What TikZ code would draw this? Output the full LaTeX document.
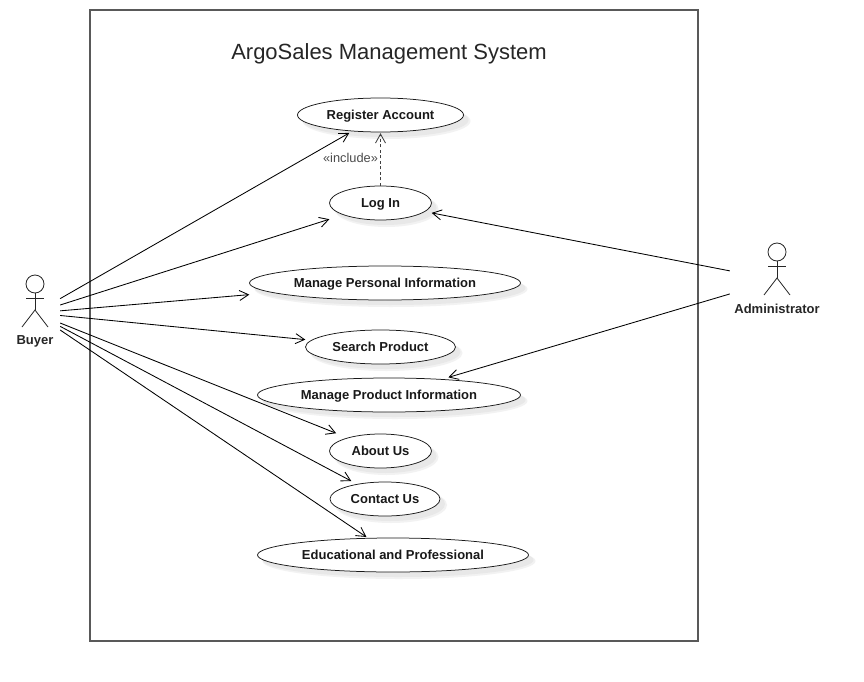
\documentclass[tikz,border=0pt]{standalone}
\usepackage{fontspec}
\setmainfont{Liberation Sans}
\usetikzlibrary{arrows.meta}
\tikzset{
  x=1pt,y=-1pt,
  frameline/.style={draw=black!65,line width=1.05pt},
  ucbox/.style={rectangle,inner sep=0pt,text height=9.6pt,text depth=0pt,font=\fontsize{13}{15}\selectfont\bfseries,text=black!90},
  actorbox/.style={rectangle,inner sep=0pt},
  actorlabel/.style={font=\fontsize{13}{15}\selectfont\bfseries,text=black!85},
  assoc/.style={draw=black,line width=0.85pt,shorten >=1.5pt,-{Straight Barb[length=9pt,width=10pt,line width=0.85pt]}},
  depend/.style={draw=black!75,line width=1.3pt,dash pattern=on 3pt off 2.5pt,shorten >=1pt,-{Straight Barb[length=9pt,width=10pt,line width=0.85pt]}},
  stick/.style={draw=black!85,line width=0.8pt},
}
% #1 name, #2 cx, #3 cy, #4 rx, #5 text
\newcommand{\usecase}[5]{%
  \fill[black!5] (#2+6,#3+6) ellipse [x radius=#4+1,y radius=18];
  \fill[black!9] (#2+5,#3+5) ellipse [x radius=#4,y radius=17];
  \draw[fill=white,draw=black!90,line width=0.75pt] (#2,#3) ellipse [x radius=#4,y radius=17];
  \node[ucbox,minimum width=2*#4*1pt-3pt,minimum height=34pt] (#1) at (#2,#3) {#5};
}
% #1 head x, #2 head y
\newcommand{\actorfig}[2]{%
  \draw[stick] (#1,#2) circle [radius=9];
  \draw[stick] (#1,#2+9) -- (#1,#2+26);
  \draw[stick] (#1-9,#2+14.5) -- (#1+9,#2+14.5);
  \draw[stick] (#1-13,#2+43) -- (#1,#2+26) -- (#1+13,#2+43);
}
\begin{document}
\begin{tikzpicture}
\useasboundingbox (0,0) rectangle (864,682);
\fill[white] (0,0) rectangle (864,682);
\draw[frameline] (90,10) rectangle (698,641);
\node[font=\fontsize{22}{26}\selectfont,text=black!85] (title) at (389,54) {ArgoSales Management System};

\usecase{reg}{380.5}{115}{83}{Register Account}
\usecase{login}{380.5}{203}{51}{Log In}
\usecase{personal}{385}{283}{135.5}{Manage Personal Information}
\usecase{search}{380.5}{347}{75}{Search Product}
\usecase{product}{389}{395}{131.5}{Manage Product Information}
\usecase{about}{380.5}{451}{51}{About Us}
\usecase{contact}{385}{499}{55}{Contact Us}
\usecase{edu}{393}{555}{135.5}{Educational and Professional}

\actorfig{35}{284}
\actorfig{777}{252}
\node[actorlabel] (buyerlabel) at (35,341) {Buyer};
\node[actorlabel] (adminlabel) at (777,309) {Administrator};
\node[actorbox,minimum width=50pt,minimum height=78pt] (buyer) at (35,313) {};
\node[actorbox,minimum width=94pt,minimum height=74pt] (admin) at (777,280) {};

\draw[assoc] (buyer) -- (reg);
\draw[assoc] (buyer) -- (login);
\draw[assoc] (buyer) -- (personal);
\draw[assoc] (buyer) -- (search);
\draw[assoc] (buyer) -- (about);
\draw[assoc] (buyer) -- (contact);
\draw[assoc] (buyer) -- (edu);
\draw[assoc] (admin) -- (login);
\draw[assoc] (admin) -- (product);
\draw[depend] (login) -- (reg);
\node[font=\fontsize{12.8}{14}\selectfont,text=black!70] (incl) at (350.5,158) {«include»};
\end{tikzpicture}
\end{document}
